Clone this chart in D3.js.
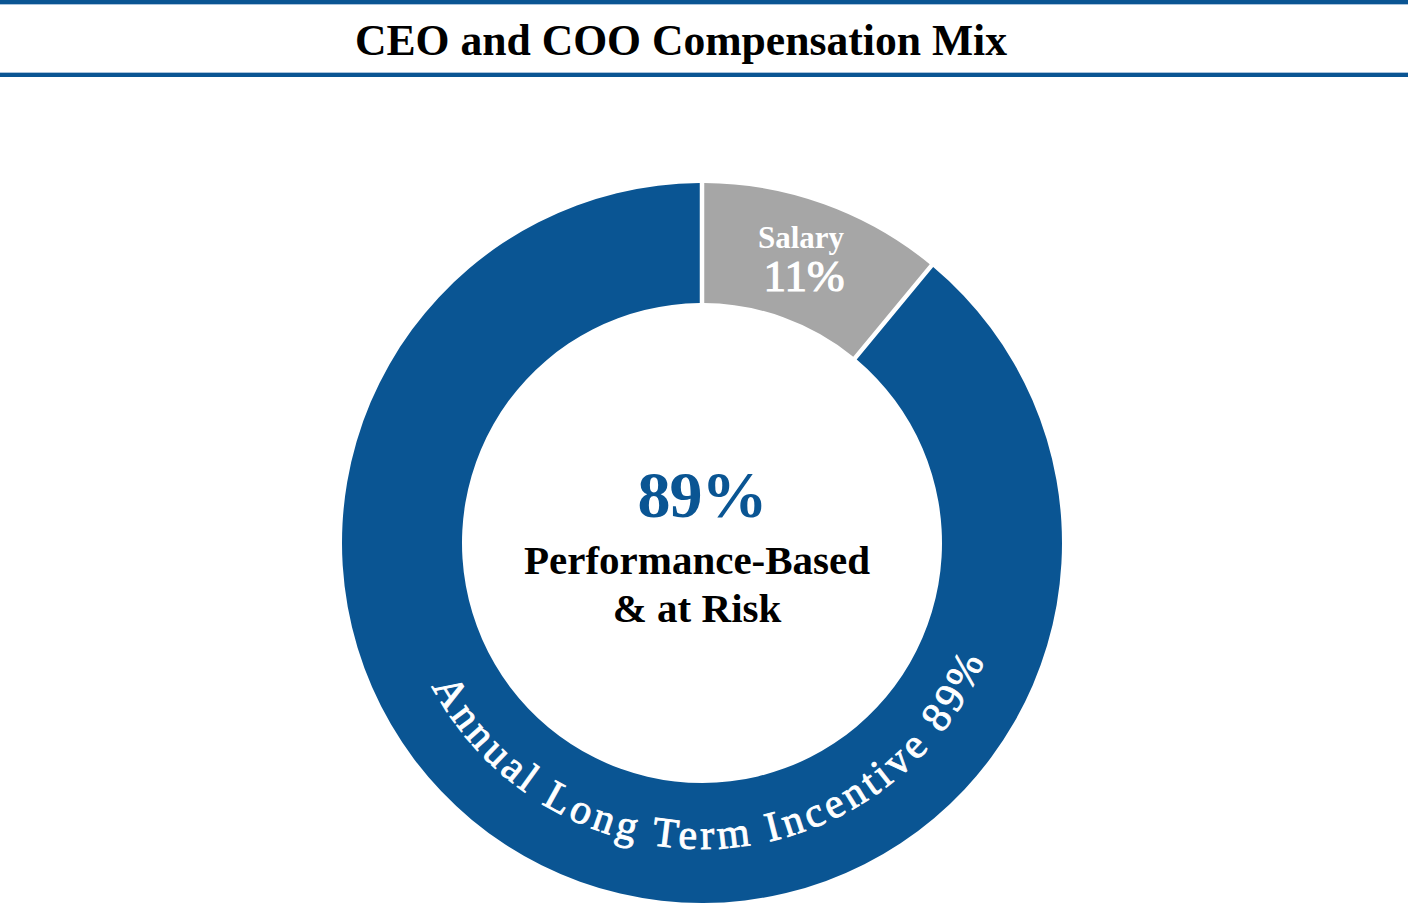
<!DOCTYPE html>
<html>
<head>
<meta charset="utf-8">
<script src="https://cdn.jsdelivr.net/npm/d3@7/dist/d3.min.js"></script>
<style>
  html, body { margin: 0; padding: 0; background: #ffffff; }
  svg { display: block; }
</style>
</head>
<body>
<svg id="chart" width="1408" height="910"></svg>
<script>
// ---- data ----
const title = "CEO and COO Compensation Mix";
const categories = ["Salary", "Annual Long Term Incentive"];
const values = [11, 89];
const centerValue = "89%";
const centerLines = ["Performance-Based", "& at Risk"];

// ---- layout / styles ----
const W = 1408, H = 910;
const cx = 702, cy = 543;
const outerR = 360, innerR = 240;
const blue = "#0a5593", grey = "#a6a6a6";
const serif = "'Liberation Serif', 'Times New Roman', serif";

const svg = d3.select("#chart");

// header rules
svg.append("rect").attr("x", 0).attr("y", 0).attr("width", W).attr("height", 4).attr("fill", blue);
svg.append("rect").attr("x", 0).attr("y", 4).attr("width", W).attr("height", 1).attr("fill", "#a9c3dc");
svg.append("rect").attr("x", 0).attr("y", 72).attr("width", W).attr("height", 1).attr("fill", "#a9c3dc");
svg.append("rect").attr("x", 0).attr("y", 73).attr("width", W).attr("height", 4).attr("fill", blue);

svg.append("text")
  .attr("x", 681).attr("y", 55)
  .attr("text-anchor", "middle")
  .attr("font-family", serif).attr("font-weight", "bold").attr("font-size", 45)
  .attr("textLength", 652).attr("lengthAdjust", "spacingAndGlyphs")
  .attr("fill", "#000")
  .text(title);

// donut
const color = d3.scaleOrdinal().domain(categories).range([grey, blue]);
const pie = d3.pie().sort(null).value(d => d.v);
const arcs = pie(categories.map((c, i) => ({ c, v: values[i] })));
const arc = d3.arc().innerRadius(innerR).outerRadius(outerR).padAngle(4.5 / 300).padRadius(300);

const g = svg.append("g").attr("transform", `translate(${cx},${cy})`);
g.selectAll("path.slice").data(arcs).join("path")
  .attr("class", "slice")
  .attr("d", arc)
  .attr("fill", d => color(d.data.c));

// Salary label
const sal = arcs[0];
g.append("text")
  .attr("x", 99).attr("y", 248 - cy)
  .attr("text-anchor", "middle")
  .attr("font-family", serif).attr("font-weight", "bold").attr("font-size", 31)
  .attr("fill", "#fff")
  .text(sal.data.c);
g.append("text")
  .attr("x", 102).attr("y", 291 - cy)
  .attr("text-anchor", "middle")
  .attr("font-family", serif).attr("font-weight", "normal").attr("font-size", 45)
  .attr("fill", "#fff").attr("stroke", "#fff").attr("stroke-width", 1.2)
  .text(sal.data.v + "%");

// curved label for long-term incentive
const lti = arcs[1];
const textR = 306;
const midDeg = 177, halfSpan = 88;
const toScreen = a => (a - 90) * Math.PI / 180;
const p = d3.path();
p.arc(0, 0, textR, toScreen(midDeg + halfSpan), toScreen(midDeg - halfSpan), true);
g.append("path").attr("id", "ltiPath").attr("d", p.toString()).attr("fill", "none");
g.append("text")
  .attr("font-family", serif).attr("font-size", 42)
  .attr("letter-spacing", 4)
  .attr("fill", "#fff").attr("stroke", "#fff").attr("stroke-width", 0.9)
  .append("textPath")
  .attr("href", "#ltiPath")
  .attr("startOffset", "50%")
  .attr("text-anchor", "middle")
  .text(`${lti.data.c} ${lti.data.v}%`);

// center text
g.append("text")
  .attr("x", 0).attr("y", 517 - cy)
  .attr("text-anchor", "middle")
  .attr("font-family", serif).attr("font-weight", "bold").attr("font-size", 66)
  .attr("letter-spacing", -1)
  .attr("fill", blue)
  .text(centerValue);
g.selectAll("text.center-line").data(centerLines).join("text")
  .attr("class", "center-line")
  .attr("x", -5).attr("y", (d, i) => 574 - cy + i * 48)
  .attr("text-anchor", "middle")
  .attr("font-family", serif).attr("font-weight", "bold").attr("font-size", 41)
  .attr("fill", "#000")
  .text(d => d);
</script>
</body>
</html>
